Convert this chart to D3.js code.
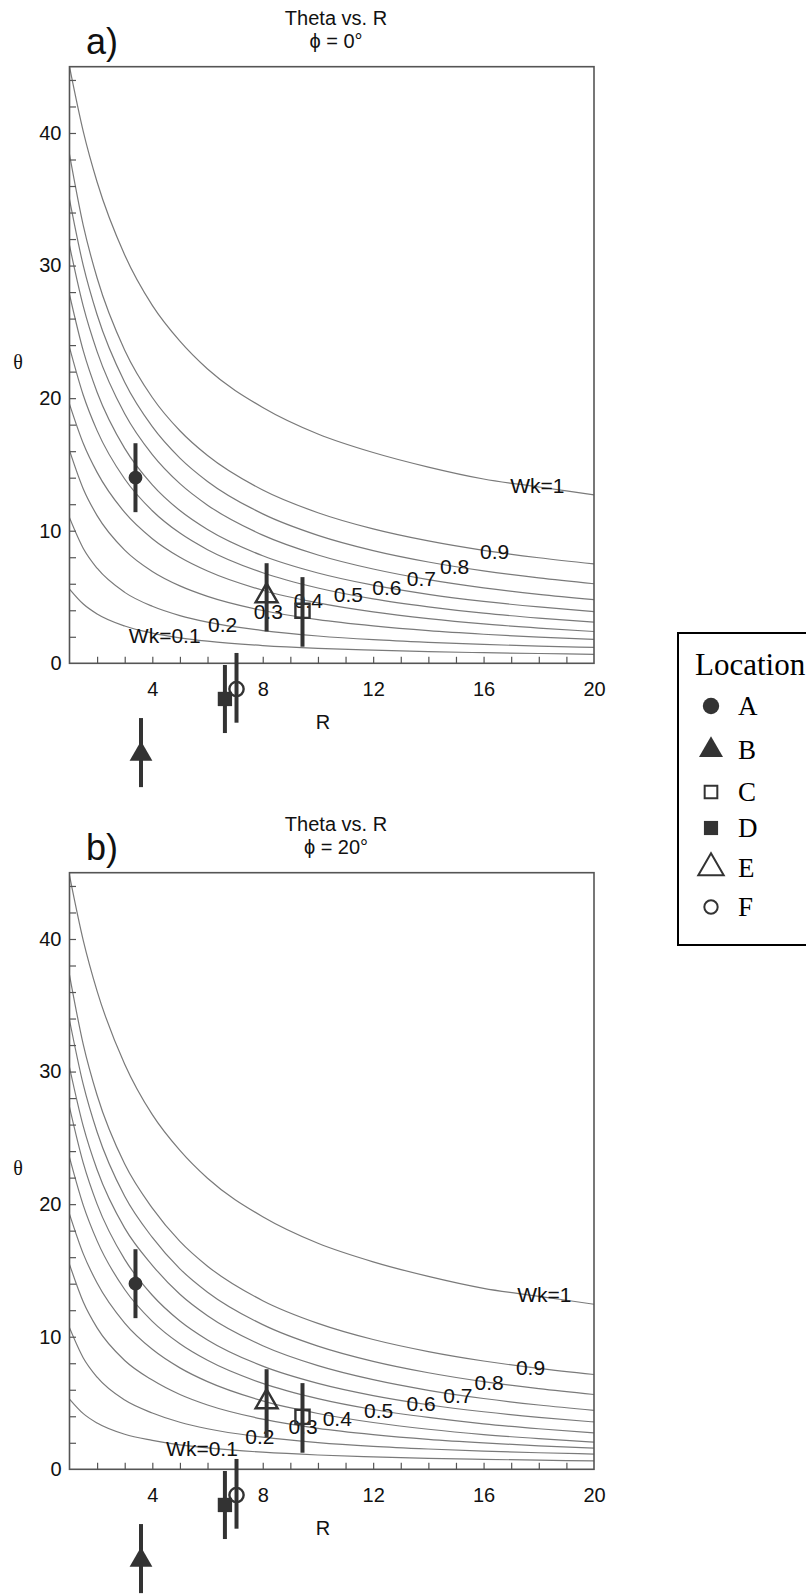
<!DOCTYPE html>
<html>
<head>
<meta charset="utf-8">
<script src="https://cdn.jsdelivr.net/npm/d3@7"></script>
<style>
  body { margin: 0; background: #fff; }
  svg text { font-family: "Liberation Sans", Arial, Helvetica, sans-serif; }
</style>
</head>
<body>
<div id="chart"></div>
<script>
const rValues = [1, 1.5, 2, 3, 4, 5, 6, 8, 10, 12, 14, 16, 18, 20];
const wkLevels = [0.1, 0.2, 0.3, 0.4, 0.5, 0.6, 0.7, 0.8, 0.9, 1];

// theta for each Wk level (rows follow wkLevels), phi = 0
const curvesPhi0 = [
  [5.6, 4.47, 3.72, 2.81, 2.28, 1.92, 1.67, 1.34, 1.13, 0.99, 0.88, 0.80, 0.74, 0.68],
  [10.98, 8.66, 7.17, 5.35, 4.30, 3.60, 3.11, 2.47, 2.06, 1.78, 1.58, 1.42, 1.30, 1.20],
  [16.06, 13.15, 11.14, 8.54, 6.93, 5.84, 5.05, 3.98, 3.29, 2.82, 2.46, 2.19, 1.97, 1.80],
  [19.55, 16.58, 14.40, 11.38, 9.40, 8.00, 6.96, 5.51, 4.56, 3.88, 3.37, 2.97, 2.66, 2.40],
  [23.83, 20.22, 17.55, 13.90, 11.51, 9.82, 8.57, 6.83, 5.68, 4.86, 4.26, 3.78, 3.41, 3.10],
  [27.82, 23.56, 20.45, 16.21, 13.46, 11.52, 10.09, 8.11, 6.81, 5.89, 5.20, 4.67, 4.25, 3.90],
  [31.52, 26.92, 23.51, 18.82, 15.74, 13.55, 11.93, 9.67, 8.17, 7.11, 6.31, 5.69, 5.20, 4.80],
  [34.99, 29.99, 26.29, 21.20, 17.85, 15.48, 13.72, 11.27, 9.65, 8.50, 7.64, 6.97, 6.44, 6.00],
  [38.38, 33.01, 29.06, 23.62, 20.05, 17.54, 15.67, 13.07, 11.36, 10.14, 9.23, 8.52, 7.96, 7.50],
  [45.0, 40.1, 36.3, 30.8, 27.0, 24.3, 22.2, 19.3, 17.3, 15.9, 14.8, 13.9, 13.3, 12.7]
];

// theta for each Wk level, phi = 20
const curvesPhi20 = [
  [5.3, 4.20, 3.49, 2.64, 2.18, 1.84, 1.62, 1.29, 1.08, 0.94, 0.83, 0.75, 0.69, 0.63],
  [10.68, 8.40, 6.95, 5.22, 4.25, 3.55, 3.06, 2.42, 2.01, 1.73, 1.53, 1.37, 1.25, 1.15],
  [15.46, 12.62, 10.67, 8.21, 6.73, 5.64, 4.85, 3.78, 3.09, 2.62, 2.26, 1.99, 1.77, 1.60],
  [19.25, 16.25, 14.05, 11.03, 9.05, 7.65, 6.61, 5.16, 4.21, 3.53, 3.02, 2.62, 2.31, 2.05],
  [23.53, 19.91, 17.23, 13.56, 11.16, 9.47, 8.22, 6.48, 5.33, 4.51, 3.91, 3.43, 3.06, 2.75],
  [27.32, 23.09, 20.0, 15.83, 13.13, 11.19, 9.76, 7.78, 6.48, 5.56, 4.87, 4.34, 3.92, 3.57],
  [30.32, 25.86, 22.59, 18.19, 15.39, 13.20, 11.58, 9.32, 7.82, 6.76, 5.96, 5.34, 4.85, 4.45],
  [33.89, 29.01, 25.44, 20.59, 17.49, 15.12, 13.36, 10.91, 9.29, 8.14, 7.28, 6.61, 6.08, 5.64],
  [37.28, 32.03, 28.21, 23.02, 19.70, 17.19, 15.32, 12.72, 11.01, 9.79, 8.88, 8.17, 7.61, 7.15],
  [44.8, 39.88, 36.07, 30.56, 26.75, 24.05, 21.95, 19.05, 17.05, 15.65, 14.55, 13.65, 13.05, 12.45]
];

// contour labels (text, R, theta)
const labelText = ["Wk=0.1", "0.2", "0.3", "0.4", "0.5", "0.6", "0.7", "0.8", "0.9", "Wk=1"];
const labelRPhi0 = [4.45, 6.55, 8.2, 9.65, 11.1, 12.5, 13.75, 14.95, 16.4, 17.95];
const labelThetaPhi0 = [2.1, 2.9, 3.9, 4.7, 5.2, 5.7, 6.4, 7.3, 8.4, 13.4];
const labelRPhi20 = [5.8, 7.9, 9.46, 10.7, 12.2, 13.74, 15.07, 16.2, 17.7, 18.2];
const labelThetaPhi20 = [1.6, 2.5, 3.26, 3.8, 4.45, 4.96, 5.6, 6.55, 7.7, 13.2];

// measured locations
const locations = ["A", "B", "C", "D", "E", "F"];
const locR = [3.39, 3.59, 9.44, 6.63, 8.14, 7.05];
const locTheta = [14.0, -6.85, 3.96, -2.69, 5.08, -1.94];
const locLow = [11.4, -9.34, 1.25, -5.26, 2.4, -4.48];
const locHigh = [16.6, -4.13, 6.5, -0.13, 7.55, 0.78];

const xTickValues = d3.range(2, 20);
const xTickLabels = [4, 8, 12, 16, 20];
const yTickValues = d3.range(2, 45, 2);
const yTickLabels = [0, 10, 20, 30, 40];

const W = 806, H = 1594;
const svg = d3.select("#chart").append("svg")
  .attr("width", W).attr("height", H);

const markColor = "#333";
const shapes = {
  A: { type: d3.symbolCircle, size: 150, fill: true },
  B: { type: d3.symbolTriangle, size: 225, fill: true },
  C: { type: d3.symbolSquare, size: 200, fill: false },
  D: { type: d3.symbolSquare, size: 205, fill: true },
  E: { type: d3.symbolTriangle, size: 210, fill: false },
  F: { type: d3.symbolCircle, size: 160, fill: false }
};

function drawPanel(off, curves, labR, labT, letter, phiText, id) {
  const x = d3.scaleLinear().domain([1, 20]).range([69.5, 594]);
  const y = d3.scaleLinear().domain([0, 45]).range([663.3 + off, 66.7 + off]);
  const g = svg.append("g");

  g.append("clipPath").attr("id", "clip" + id)
    .append("rect")
    .attr("x", x(1)).attr("y", y(45))
    .attr("width", x(20) - x(1)).attr("height", y(0) - y(45));

  // curves
  const line = d3.line()
    .x((d, i) => x(rValues[i]))
    .y(d => y(d))
    .curve(d3.curveMonotoneX);
  g.append("g").attr("clip-path", `url(#clip${id})`)
    .selectAll("path")
    .data(curves)
    .enter().append("path")
    .attr("d", line)
    .attr("fill", "none")
    .attr("stroke", "#7a7a7a")
    .attr("stroke-width", 1.2);

  // frame
  g.append("rect")
    .attr("x", x(1)).attr("y", y(45))
    .attr("width", x(20) - x(1)).attr("height", y(0) - y(45))
    .attr("fill", "none").attr("stroke", "#555").attr("stroke-width", 1.6);

  // inner ticks
  g.append("g").attr("transform", `translate(0,${y(0)})`)
    .call(d3.axisBottom(x).tickValues(xTickValues).tickSize(-6.5).tickFormat(""))
    .call(a => a.select(".domain").remove())
    .selectAll("line").attr("stroke", "#555").attr("stroke-width", 1.2);
  g.append("g").attr("transform", `translate(${x(1)},0)`)
    .call(d3.axisLeft(y).tickValues(yTickValues).tickSize(-6.5).tickFormat(""))
    .call(a => a.select(".domain").remove())
    .selectAll("line").attr("stroke", "#555").attr("stroke-width", 1.2);

  // tick labels
  const xl = g.append("g").attr("transform", `translate(0,${y(0)})`)
    .call(d3.axisBottom(x).tickValues(xTickLabels).tickSize(0).tickPadding(19));
  xl.select(".domain").remove();
  xl.selectAll("text").attr("font-size", 20).attr("fill", "#111")
    .attr("font-family", "Liberation Sans, Arial, sans-serif");
  const yl = g.append("g").attr("transform", `translate(${x(1)},0)`)
    .call(d3.axisLeft(y).tickValues(yTickLabels).tickSize(0).tickPadding(8));
  yl.select(".domain").remove();
  yl.selectAll("text").attr("font-size", 20).attr("fill", "#111")
    .attr("font-family", "Liberation Sans, Arial, sans-serif");

  // axis titles
  g.append("text").attr("x", 323).attr("y", 729 + off)
    .attr("text-anchor", "middle").attr("font-size", 20).attr("fill", "#111").text("R");
  g.append("text").attr("x", 18).attr("y", 364 + off)
    .attr("text-anchor", "middle").attr("dominant-baseline", "middle")
    .style("font-family", "Liberation Serif, Times New Roman, serif")
    .attr("font-size", 20).attr("fill", "#111").text("θ");

  // titles
  g.append("text").attr("x", 336).attr("y", 25 + off)
    .attr("text-anchor", "middle").attr("font-size", 20).attr("fill", "#111").text("Theta vs. R");
  g.append("text").attr("x", 336).attr("y", 48 + off)
    .attr("text-anchor", "middle").attr("font-size", 20).attr("fill", "#111").text(phiText);
  g.append("text").attr("x", 86).attr("y", 54 + off)
    .attr("font-size", 36).attr("fill", "#111").text(letter);

  // contour labels
  g.selectAll(".clab")
    .data(labelText)
    .enter().append("text")
    .attr("x", (d, i) => x(labR[i]))
    .attr("y", (d, i) => y(labT[i]))
    .attr("text-anchor", "middle")
    .attr("dominant-baseline", "central")
    .attr("font-size", 21)
    .attr("fill", "#111")
    .text(d => d);

  // error bars
  g.selectAll(".err")
    .data(locations)
    .enter().append("line")
    .attr("x1", (d, i) => x(locR[i])).attr("x2", (d, i) => x(locR[i]))
    .attr("y1", (d, i) => y(locLow[i])).attr("y2", (d, i) => y(locHigh[i]))
    .attr("stroke", markColor).attr("stroke-width", 4);

  // markers
  g.selectAll(".mark")
    .data(locations)
    .enter().append("path")
    .attr("transform", (d, i) => `translate(${x(locR[i])},${y(locTheta[i])})`)
    .attr("d", d => d3.symbol().type(shapes[d].type).size(shapes[d].size)())
    .attr("fill", d => shapes[d].fill ? markColor : "none")
    .attr("stroke", markColor)
    .attr("stroke-width", d => shapes[d].fill ? 0 : 2.4);
}

drawPanel(0, curvesPhi0, labelRPhi0, labelThetaPhi0, "a)", "ϕ = 0°", "a");
drawPanel(806, curvesPhi20, labelRPhi20, labelThetaPhi20, "b)", "ϕ = 20°", "b");

// legend
const lg = svg.append("g");
lg.append("rect").attr("x", 678).attr("y", 633).attr("width", 140).attr("height", 312)
  .attr("fill", "#fff").attr("stroke", "#000").attr("stroke-width", 2);
lg.append("text").attr("x", 695).attr("y", 675)
  .style("font-family", "Liberation Serif, Times New Roman, serif")
  .attr("font-size", 31).attr("fill", "#000").text("Location");
const legendRowY = [706, 750, 792, 828, 868, 907];
const legendSize = { A: 210, B: 250, C: 160, D: 200, E: 280, F: 140 };
lg.selectAll(".lsym")
  .data(locations)
  .enter().append("path")
  .attr("transform", (d, i) => `translate(711,${legendRowY[i]})`)
  .attr("d", d => d3.symbol().type(shapes[d].type).size(legendSize[d])())
  .attr("fill", d => shapes[d].fill ? markColor : "none")
  .attr("stroke", markColor)
  .attr("stroke-width", d => shapes[d].fill ? 0 : 2);
lg.selectAll(".ltxt")
  .data(locations)
  .enter().append("text")
  .attr("x", 738)
  .attr("y", (d, i) => legendRowY[i] + 9)
  .style("font-family", "Liberation Serif, Times New Roman, serif")
  .attr("font-size", 27).attr("fill", "#000")
  .text(d => d);
</script>
</body>
</html>
